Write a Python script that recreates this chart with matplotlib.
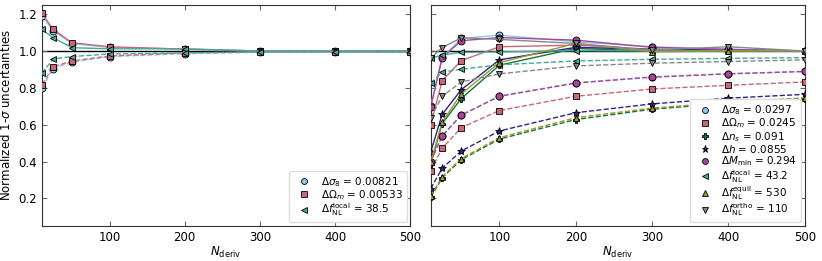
import numpy as np
import matplotlib.pyplot as plt

# number of simulations used for the derivatives
n_deriv = [10, 25, 50, 100, 200, 300, 400, 500]

# ---- left panel: three parameters ----
left_names = ["s8", "om", "fnl_loc"]
left_labels = [r"$\Delta\sigma_8$ = 0.00821",
               r"$\Delta\Omega_m$ = 0.00533",
               r"$\Delta f_{\rm NL}^{\rm local}$ = 38.5"]
left_upper = {
    "s8":      [1.19, 1.11, 1.04, 1.02, 1.01, 1.0, 1.0, 1.0],
    "om":      [1.205, 1.117, 1.045, 1.023, 1.01, 1.0, 1.0, 1.0],
    "fnl_loc": [1.117, 1.072, 1.018, 1.012, 1.012, 1.0, 1.0, 1.0],
}
left_lower = {
    "s8":      [0.80, 0.905, 0.94, 0.97, 0.985, 0.993, 0.994, 0.994],
    "om":      [0.817, 0.914, 0.946, 0.973, 0.99, 0.995, 0.996, 0.995],
    "fnl_loc": [0.88, 0.957, 0.97, 0.984, 0.99, 0.995, 0.995, 0.995],
}

# ---- right panel: all eight parameters ----
right_names = ["s8", "om", "ns", "h", "mmin", "fnl_loc", "fnl_eq", "fnl_orth"]
right_labels = [r"$\Delta\sigma_8$ = 0.0297",
                r"$\Delta\Omega_m$ = 0.0245",
                r"$\Delta n_s$ = 0.091",
                r"$\Delta h$ = 0.0855",
                r"$\Delta M_{\rm min}$ = 0.294",
                r"$\Delta f_{\rm NL}^{\rm local}$ = 43.2",
                r"$\Delta f_{\rm NL}^{\rm equil}$ = 530",
                r"$\Delta f_{\rm NL}^{\rm ortho}$ = 110"]
right_upper = {
    "s8":       [0.70, 0.965, 1.068, 1.086, 1.05, 1.023, 1.01, 1.0],
    "om":       [0.60, 0.839, 0.948, 1.023, 1.032, 1.009, 1.005, 1.0],
    "ns":       [0.387, 0.606, 0.742, 0.923, 1.014, 1.0, 1.0, 1.0],
    "h":        [0.452, 0.656, 0.79, 0.952, 1.02, 1.009, 1.005, 1.0],
    "mmin":     [0.697, 0.964, 1.056, 1.073, 1.059, 1.02, 1.009, 1.0],
    "fnl_loc":  [0.961, 0.978, 0.993, 0.995, 1.002, 1.0, 1.002, 1.0],
    "fnl_eq":   [0.396, 0.615, 0.767, 0.937, 1.041, 0.996, 1.0, 1.0],
    "fnl_orth": [0.961, 1.018, 1.072, 1.063, 1.041, 1.005, 1.023, 1.0],
}
right_lower = {
    "s8":       [0.40, 0.54, 0.652, 0.756, 0.828, 0.86, 0.877, 0.889],
    "om":       [0.351, 0.473, 0.584, 0.677, 0.754, 0.794, 0.814, 0.832],
    "ns":       [0.205, 0.312, 0.41, 0.522, 0.628, 0.684, 0.717, 0.742],
    "h":        [0.253, 0.364, 0.457, 0.566, 0.665, 0.713, 0.744, 0.765],
    "mmin":     [0.40, 0.539, 0.652, 0.754, 0.826, 0.858, 0.876, 0.889],
    "fnl_loc":  [0.826, 0.885, 0.901, 0.925, 0.946, 0.955, 0.96, 0.964],
    "fnl_eq":   [0.212, 0.318, 0.416, 0.53, 0.638, 0.69, 0.722, 0.746],
    "fnl_orth": [0.638, 0.754, 0.832, 0.876, 0.919, 0.934, 0.943, 0.952],
}

colors = {"s8": "#88CCEE", "om": "#CC6677", "ns": "#117733", "h": "#332288",
          "mmin": "#AA4499", "fnl_loc": "#44AA99", "fnl_eq": "#999933",
          "fnl_orth": "#888888"}
markers = {"s8": "o", "om": "s", "ns": "P", "h": "*", "mmin": "o",
           "fnl_loc": "<", "fnl_eq": "^", "fnl_orth": "v"}

plt.rcParams["font.size"] = 8.5
plt.rcParams["mathtext.fontset"] = "dejavusans"

fig = plt.figure(figsize=(8.22, 2.61), dpi=100)
ax1 = fig.add_axes([0.051, 0.134, 0.448, 0.847])
ax2 = fig.add_axes([0.524, 0.134, 0.455, 0.847])


def draw_panel(ax, names, labels, upper, lower):
    ax.axhline(1.0, color="k", lw=1.0, zorder=1)
    for name, lab in zip(names, labels):
        c, m = colors[name], markers[name]
        ms = 6 if m == "*" else 5
        ax.plot(n_deriv, upper[name], color=c, lw=1.0, marker=m, ms=ms,
                mec="k", mew=0.6, zorder=3)
        ax.plot(n_deriv, lower[name], color=c, lw=1.0, ls="--", marker=m,
                ms=ms, mec="k", mew=0.6, zorder=3)
        ax.plot([], [], ls="none", marker=m, ms=ms, color=c, mec="k",
                mew=0.6, label=lab)
    ax.set_xlim(10, 500)
    ax.set_ylim(0.05, 1.25)
    ax.set_xticks([100, 200, 300, 400, 500])
    ax.set_yticks([0.2, 0.4, 0.6, 0.8, 1.0, 1.2])
    ax.tick_params(direction="in", top=True, right=True, color="#666666")
    for sp in ax.spines.values():
        sp.set_color("#333333")
    ax.set_xlabel(r"$N_{\rm deriv}$", labelpad=1)
    ax.legend(loc="lower right", fontsize=7.5, handletextpad=0.6,
              labelspacing=-0.05, borderaxespad=0.35, borderpad=0.4,
              markerscale=0.85, framealpha=1, edgecolor="#dddddd")


draw_panel(ax1, left_names, left_labels, left_upper, left_lower)
draw_panel(ax2, right_names, right_labels, right_upper, right_lower)
ax1.set_ylabel(r"Normalized 1-$\sigma$ uncertainties")
ax2.set_yticklabels([])

fig.savefig("out.png", dpi=100)
